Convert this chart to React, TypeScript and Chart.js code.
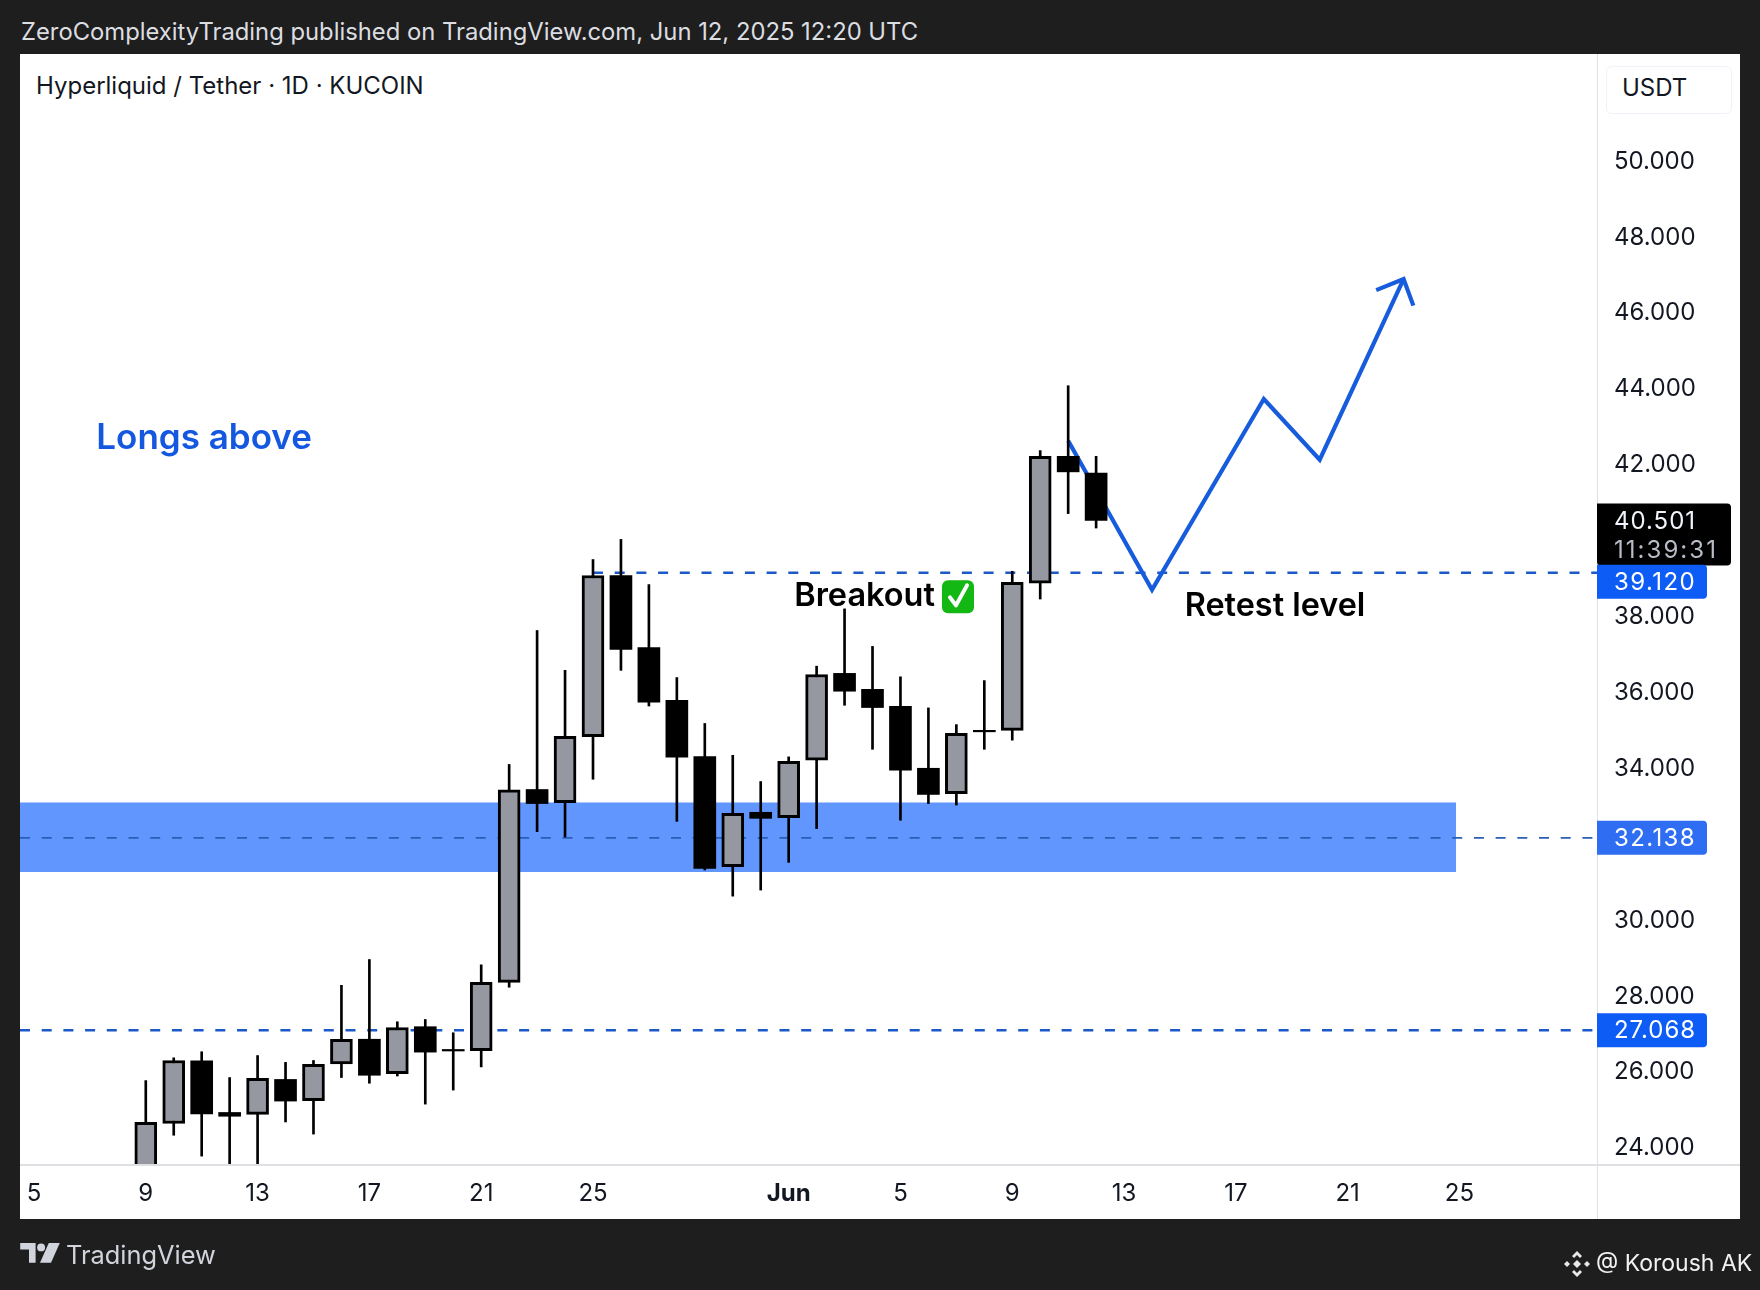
import React, { useEffect, useRef } from "react";
import { Chart, registerables } from "chart.js";

Chart.register(...registerables);

// index 0 on the time axis is May 5
const firstCandleIndex = 4;
const candleDates = ["May 9","May 10","May 11","May 12","May 13","May 14","May 15","May 16","May 17","May 18","May 19","May 20","May 21","May 22","May 23","May 24","May 25","May 26","May 27","May 28","May 29","May 30","May 31","Jun 1","Jun 2","Jun 3","Jun 4","Jun 5","Jun 6","Jun 7","Jun 8","Jun 9","Jun 10","Jun 11","Jun 12"];
const opens = [23.0,24.61,26.26,24.90,24.85,25.77,25.21,26.18,26.83,25.92,27.16,26.56,26.53,28.33,33.41,33.06,34.80,39.05,37.15,35.76,34.28,31.38,32.81,32.67,34.18,36.47,36.05,35.60,33.97,33.30,34.97,34.97,38.85,42.19,41.75];
const highs = [25.74,26.34,26.50,25.82,26.40,26.22,26.27,28.25,28.93,27.29,27.35,27.0,28.79,34.07,37.60,36.55,39.47,40.0,38.81,36.36,35.15,34.31,33.62,34.27,36.66,38.17,37.18,36.38,35.56,35.12,36.28,39.16,42.34,44.05,42.19];
const lows = [23.0,24.30,23.75,23.3,23.4,24.65,24.33,25.82,25.67,25.86,25.12,25.49,26.10,28.20,32.30,32.16,33.68,36.55,35.61,32.57,31.29,30.60,30.76,31.49,32.38,35.63,34.47,32.60,33.04,33.0,34.47,34.71,38.43,40.68,40.30];
const closes = [24.64,26.27,24.86,24.80,25.80,25.20,26.17,26.83,25.88,27.14,26.49,26.52,28.33,33.40,33.04,34.81,39.05,37.10,35.71,34.26,31.33,32.78,32.65,34.15,36.44,36.00,35.57,33.92,33.28,34.89,34.93,38.87,42.19,41.78,40.501];

const priceTicks = [50, 48, 46, 44, 42, 38, 36, 34, 30, 28, 26, 24];
const timeTickIndex = [0, 4, 8, 12, 16, 20, 27, 31, 35, 39, 43, 47, 51];
const timeTickLabels = ["5", "9", "13", "17", "21", "25", "Jun", "5", "9", "13", "17", "21", "25"];
const boldTimeTick = 27;

const levelResistance = 39.12;
const levelMid = 32.138;
const levelSupport = 27.068;
const lastPrice = 40.501;
const countdown = "11:39:31";
const zoneTop = 33.065;
const zoneBottom = 31.235;
const zoneEndIndex = 50.88;
const resistanceStartIndex = 20;

const projectionX = [37, 40, 44, 46, 49];
const projectionY = [42.6, 38.67, 43.7, 42.1, 46.86];
const arrowX = [48.02, 49, 49.35];
const arrowY = [46.57, 46.86, 46.16];

const annotationTexts = ["Longs above", "Breakout", "Retest level"];
const annotationX = [2.23, 27.2, 41.17];
const annotationY = [42.65, 38.5, 38.23];
const annotationSizes = [35, 32.5, 32.4];
const annotationColors = ["#1558e0", "#000000", "#000000"];

const xMin = -0.5;
const xMax = 55.92;
const yMin = 23.542;
const yMax = 52.791;
const FONT = "Inter, 'Noto Sans', sans-serif";
const DASH = [10, 11.7];

const roundRect = (c: CanvasRenderingContext2D, x: number, y: number, w: number, h: number, r: number[]) => {
  c.beginPath();
  (c as any).roundRect(x, y, w, h, r);
  c.fill();
};

// price-scale digits are tabular in the source, so text is spread to a fixed width
const spreadText = (c: any, t: string, x: number, y: number, target: number) => {
  c.letterSpacing = "0px";
  const w = c.measureText(t).width;
  c.letterSpacing = `${(target - w) / t.length}px`;
  c.fillText(t, x, y);
  c.letterSpacing = "0px";
};

const overlayPlugin = {
  id: "overlay",
  afterDraw(chart: any) {
    const c: CanvasRenderingContext2D = chart.ctx;
    const { x, y } = chart.scales;
    const axisLeft = chart.chartArea.right;
    c.save();
    c.textBaseline = "middle";
    c.textAlign = "left";
    annotationTexts.forEach((t, i) => {
      c.font = `600 ${annotationSizes[i]}px ${FONT}`;
      c.fillStyle = annotationColors[i];
      c.fillText(t, x.getPixelForValue(annotationX[i]), y.getPixelForValue(annotationY[i]));
    });
    // check mark badge following "Breakout"
    c.font = `600 ${annotationSizes[1]}px ${FONT}`;
    const bw = c.measureText(annotationTexts[1]).width;
    const bx = x.getPixelForValue(annotationX[1]) + bw + 7;
    const by = y.getPixelForValue(annotationY[1]);
    c.fillStyle = "#14b814";
    roundRect(c, bx, by - 16, 32, 33, [6, 6, 6, 6]);
    c.strokeStyle = "#ffffff";
    c.lineWidth = 4;
    c.lineCap = "round";
    c.lineJoin = "round";
    c.beginPath();
    c.moveTo(bx + 8, by + 1);
    c.lineTo(bx + 14, by + 9);
    c.lineTo(bx + 25, by - 11);
    c.stroke();
    // price tags
    c.font = `400 24px ${FONT}`;
    const tag = (v: number, bg: string, dy: number) => {
      const py = y.getPixelForValue(v) + dy;
      c.fillStyle = bg;
      roundRect(c, axisLeft, py - 17, 110, 34, [0, 4, 4, 0]);
      c.fillStyle = "#ffffff";
      spreadText(c, v.toFixed(3), axisLeft + 17, py + 1, 82);
    };
    const lp = y.getPixelForValue(lastPrice);
    c.fillStyle = "#000000";
    roundRect(c, axisLeft, lp - 17, 134, 62, [0, 4, 4, 4]);
    c.fillStyle = "#f0f3fa";
    spreadText(c, lastPrice.toFixed(3), axisLeft + 17, lp + 1, 82);
    c.fillStyle = "#b8bcc6";
    spreadText(c, countdown, axisLeft + 17, lp + 30, 104);
    tag(levelResistance, "#0d5cf5", 9);
    tag(levelMid, "#2f6ef2", 0);
    tag(levelSupport, "#0d5cf5", 0);
    c.restore();
  },
};

const label = (text: string, style: React.CSSProperties) => (
  <div style={{ position: "absolute", whiteSpace: "nowrap", lineHeight: 1, fontFamily: FONT, ...style }}>{text}</div>
);

export default function App() {
  const ref = useRef<HTMLCanvasElement>(null);
  useEffect(() => {
    document.body.style.margin = "0";
    const xs = candleDates.map((_, i) => i + firstCandleIndex);
    const isUp = (i: number) => closes[i] > opens[i];
    const line = (data: any[], color: string, width: number, dash: number[], order: number, extra: any = {}) => ({
      type: "line",
      data,
      borderColor: color,
      borderWidth: width,
      borderDash: dash,
      pointRadius: 0,
      tension: 0,
      fill: false,
      order,
      ...extra,
    });
    const bar = (data: any[], fill: string, thick: number, border: number, order: number) => ({
      type: "bar",
      data,
      backgroundColor: fill,
      borderColor: "#000000",
      borderWidth: border,
      borderSkipped: false,
      grouped: false,
      categoryPercentage: 1,
      barPercentage: 1,
      maxBarThickness: thick,
      order,
    });
    const chart = new Chart(ref.current as HTMLCanvasElement, {
      type: "bar",
      data: {
        datasets: [
          line([{ x: xMin, y: zoneTop }, { x: zoneEndIndex, y: zoneTop }], "rgba(0,0,0,0)", 0, [], 30, {
            fill: { target: { value: zoneBottom } },
            backgroundColor: "#6196ff",
          }),
          line([{ x: xMin, y: levelMid }, { x: xMax, y: levelMid }], "#2a5fb5", 1.8, DASH, 20),
          line([{ x: xMin, y: levelSupport }, { x: xMax, y: levelSupport }], "#1c58c8", 2.6, DASH, 20),
          line([{ x: resistanceStartIndex, y: levelResistance }, { x: xMax, y: levelResistance }], "#1c58c8", 2.6, DASH, 20),
          line(projectionX.map((v, i) => ({ x: v, y: projectionY[i] })), "#165cdd", 4.2, [], 10),
          line(arrowX.map((v, i) => ({ x: v, y: arrowY[i] })), "#165cdd", 4.2, [], 10),
          bar(xs.map((v, i) => ({ x: v, y: [lows[i], highs[i]] })), "#000000", 2, 0, 5),
          bar(xs.map((v, i) => (isUp(i) ? { x: v, y: [opens[i], closes[i]] } : null)).filter(Boolean) as any[], "#9598a1", 22, 3, 2),
          bar(xs.map((v, i) => (!isUp(i) ? { x: v, y: [opens[i], closes[i]] } : null)).filter(Boolean) as any[], "#000000", 22, 0, 2),
        ] as any,
      },
      options: {
        responsive: false,
        animation: false,
        devicePixelRatio: 1,
        layout: { padding: { left: 20, top: 54, right: 20, bottom: 71 } },
        plugins: { legend: { display: false }, tooltip: { enabled: false }, title: { display: false } },
        scales: {
          x: {
            type: "linear",
            min: xMin,
            max: xMax,
            offset: false,
            grid: { display: false },
            border: { display: false },
            afterFit: (s: any) => { s.height = 55; },
            afterBuildTicks: (s: any) => { s.ticks = timeTickIndex.map((value) => ({ value })); },
            ticks: {
              autoSkip: false,
              maxRotation: 0,
              padding: 7,
              color: "#131722",
              font: (ctx: any) => ({ family: FONT, size: 24, weight: ctx.tick && ctx.tick.value === boldTimeTick ? "700" : "400" }),
              callback: (v: any) => timeTickLabels[timeTickIndex.indexOf(v)],
            },
          },
          y: {
            type: "linear",
            position: "right",
            min: yMin,
            max: yMax,
            beginAtZero: false,
            grid: { display: false },
            border: { display: false },
            afterFit: (s: any) => { s.width = 143; },
            afterBuildTicks: (s: any) => { s.ticks = priceTicks.map((value) => ({ value })); },
            ticks: {
              autoSkip: false,
              padding: 9,
              labelOffset: 1.5,
              color: "#131722",
              font: { family: FONT, size: 24 },
              callback: (v: any) => Number(v).toFixed(3),
            },
          },
        },
      } as any,
      plugins: [overlayPlugin as any],
    });
    return () => chart.destroy();
  }, []);

  return (
    <div style={{ position: "relative", width: 1760, height: 1290, background: "#1e1e1e", overflow: "hidden" }}>
      <div style={{ position: "absolute", left: 20, top: 54, width: 1720, height: 1165, background: "#ffffff" }} />
      <div style={{ position: "absolute", left: 1597, top: 54, width: 1, height: 1165, background: "#dfe0e3" }} />
      <div style={{ position: "absolute", left: 20, top: 1164, width: 1720, height: 2, background: "#dfe0e3" }} />
      <div style={{ position: "absolute", left: 1606, top: 66, width: 126, height: 48, border: "1px solid #f0f3fa", borderRadius: 6, boxSizing: "border-box" }} />
      {label("ZeroComplexityTrading published on TradingView.com, Jun 12, 2025 12:20 UTC", { left: 21, top: 20, fontSize: 23.8, color: "#dcdde0" })}
      {label("Hyperliquid / Tether · 1D · KUCOIN", { left: 36, top: 74, fontSize: 24, color: "#131722" })}
      {label("USDT", { left: 1622, top: 76, fontSize: 24, color: "#131722" })}
      <canvas ref={ref} width={1760} height={1290} style={{ position: "absolute", left: 0, top: 0, width: 1760, height: 1290 }} />
      <svg style={{ position: "absolute", left: 20, top: 1243 }} width="40" height="22" viewBox="0 0 36 20">
        <path d="M0 0h14v18H8V6H0z" fill="#d1d4dc" />
        <circle cx="19" cy="4" r="3.6" fill="#d1d4dc" />
        <path d="M26 0h10l-8 18H18z" fill="#d1d4dc" />
      </svg>
      {label("TradingView", { left: 66, top: 1242, fontSize: 25.4, color: "#d1d4dc" })}
      <svg style={{ position: "absolute", left: 1563, top: 1250 }} width="28" height="28" viewBox="0 0 28 28">
        <g fill="#e8e8e8">
          <path d="M14 1l5 5-2 2-3-3-3 3-2-2z" />
          <path d="M14 27l5-5-2-2-3 3-3-3-2 2z" />
          <path d="M1 14l3-3 3 3-3 3z" />
          <path d="M21 14l3-3 3 3-3 3z" />
          <path d="M14 10l4 4-4 4-4-4z" />
        </g>
      </svg>
      {label("@ Koroush AK", { left: 1596, top: 1252, fontSize: 23, color: "#f2f2f2" })}
    </div>
  );
}
